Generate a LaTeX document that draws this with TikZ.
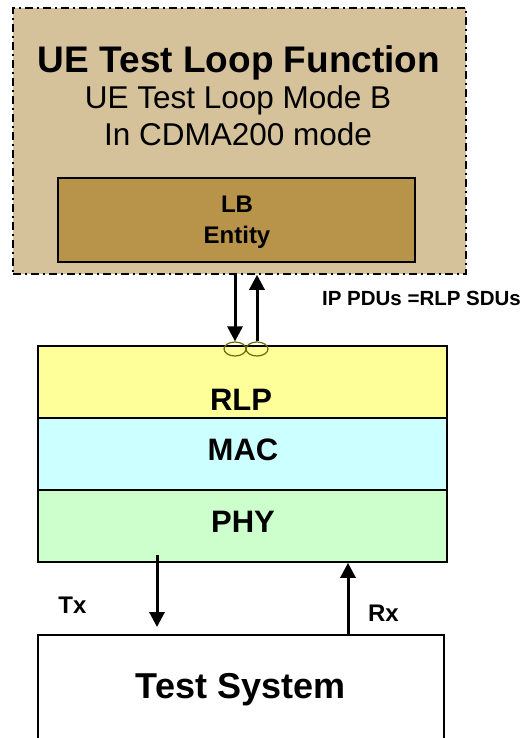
\documentclass[tikz,border=0pt]{standalone}
\usepackage{fontspec}
\setmainfont{Liberation Sans}
\usetikzlibrary{arrows.meta,shapes.geometric}
\definecolor{loopfill}{RGB}{213,194,155}
\definecolor{lbfill}{RGB}{184,147,74}
\definecolor{rlpfill}{RGB}{255,255,153}
\definecolor{macfill}{RGB}{204,255,255}
\definecolor{phyfill}{RGB}{204,255,204}
\definecolor{sapline}{RGB}{110,105,0}
\tikzset{
  layer/.style={draw,line width=1.6pt,minimum width=409pt,minimum height=72pt,inner sep=0pt},
  txt/.style={anchor=base,inner sep=0pt},
  flow/.style={line width=3pt,-{Triangle[width=15pt,length=15pt]}},
  sap/.style={draw=sapline,ellipse,line width=1.2pt,minimum width=22pt,minimum height=14pt,inner sep=0pt},
}
\begin{document}
\begin{tikzpicture}[x=1pt,y=-1pt]
      \useasboundingbox (0,0) rectangle (528,738);
      \node[draw,fill=loopfill,line width=1.5pt,dash pattern=on 8pt off 4pt on 2pt off 4pt,
        minimum width=453pt,minimum height=266pt,inner sep=0pt] (loop) at (239.5,141) {};
      \node[txt,font=\bfseries\fontsize{37}{44}\selectfont] (title) at (239,73) {UE Test Loop Function};
      \node[txt,font=\fontsize{31.5}{38}\selectfont] (mode) at (238,109) {UE Test Loop Mode B};
      \node[txt,font=\fontsize{31.5}{38}\selectfont] (cdma) at (238,146) {In CDMA200 mode};
      \node[draw,fill=lbfill,line width=1.5pt,minimum width=357pt,minimum height=84pt,inner sep=0pt] (lb) at (236.5,220) {};
      \node[txt,font=\bfseries\fontsize{24}{29}\selectfont] (lbtop) at (237,212) {LB};
      \node[txt,font=\bfseries\fontsize{24}{29}\selectfont] (lbbot) at (237,243) {Entity};
      % protocol stack
      \node[layer,fill=rlpfill] (rlp) at (242.5,382) {};
      \node[layer,fill=macfill] (mac) at (242.5,454) {};
      \node[layer,fill=phyfill] (phy) at (242.5,526) {};
      \node[txt,font=\bfseries\fontsize{31}{37}\selectfont] (rlptxt) at (241,410) {RLP};
      \node[txt,font=\bfseries\fontsize{31}{37}\selectfont] (mactxt) at (243,460) {MAC};
      \node[txt,font=\bfseries\fontsize{31}{37}\selectfont] (phytxt) at (243,532) {PHY};
      \node[sap] (dn) at (235,349) {};
      \node[sap] (up) at (257,349) {};
      \node[draw,line width=1.6pt,fill=white,minimum width=406pt,minimum height=110pt,inner sep=0pt] (ts) at (241,690) {};
      \node[txt,font=\bfseries\fontsize{36}{43}\selectfont] (tstxt) at (240.5,698) {Test System};
      % labels
      \node[txt,font=\bfseries\fontsize{20.5}{25}\selectfont] (pdu) at (421.5,305) {IP PDUs =RLP SDUs};
      \node[txt,font=\bfseries\fontsize{24}{29}\selectfont] (tx) at (72.5,613) {Tx};
      \node[txt,font=\bfseries\fontsize{24}{29}\selectfont] (rx) at (383.5,621) {Rx};
      \coordinate (txstart) at (157,555);
      \coordinate (txend) at (157,627);
      \coordinate (rxpos) at (348,600);
      \begin{scope}[flow]
        \draw (dn |- loop.south) to (dn.north);
        \draw (up.north) to (up |- loop.south);
        \draw (txstart) to (txend);
        \draw (rxpos |- ts.north) to (rxpos |- phy.south);
      \end{scope}
    \end{tikzpicture}
\end{document}
